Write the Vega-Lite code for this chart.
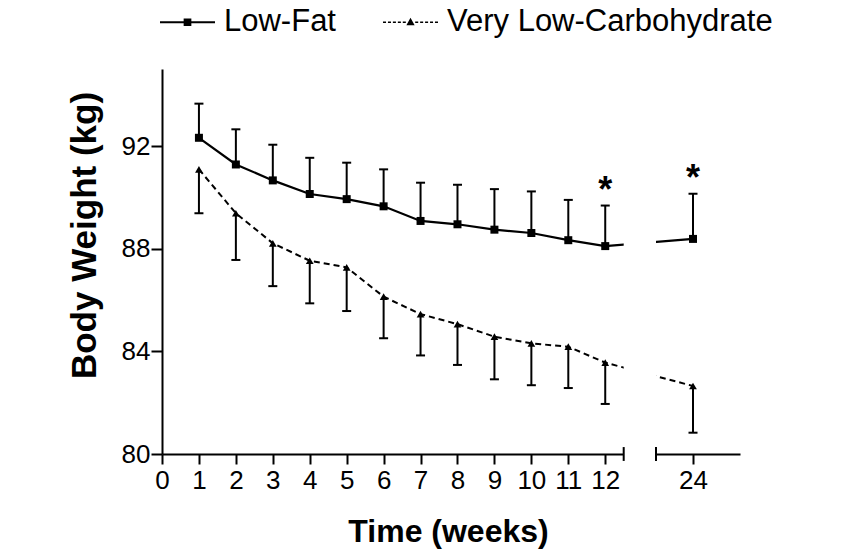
{
  "$schema": "https://vega.github.io/schema/vega-lite/v6.json",
  "autosize": "none",
  "width": 578,
  "height": 385,
  "padding": {"left": 162, "top": 69, "right": 110, "bottom": 106},
  "background": "white",
  "config": {"view": {"stroke": null}, "font": "Liberation Sans"},
  "datasets": {
    "weights": [
      {"week": 1, "group": "Low-Fat", "mean": 92.32, "bound": 93.65, "sig": ""},
      {"week": 2, "group": "Low-Fat", "mean": 91.28, "bound": 92.65, "sig": ""},
      {"week": 3, "group": "Low-Fat", "mean": 90.66, "bound": 92.05, "sig": ""},
      {"week": 4, "group": "Low-Fat", "mean": 90.13, "bound": 91.54, "sig": ""},
      {"week": 5, "group": "Low-Fat", "mean": 89.93, "bound": 91.35, "sig": ""},
      {"week": 6, "group": "Low-Fat", "mean": 89.65, "bound": 91.09, "sig": ""},
      {"week": 7, "group": "Low-Fat", "mean": 89.08, "bound": 90.57, "sig": ""},
      {"week": 8, "group": "Low-Fat", "mean": 88.95, "bound": 90.49, "sig": ""},
      {"week": 9, "group": "Low-Fat", "mean": 88.74, "bound": 90.32, "sig": ""},
      {"week": 10, "group": "Low-Fat", "mean": 88.61, "bound": 90.23, "sig": ""},
      {"week": 11, "group": "Low-Fat", "mean": 88.33, "bound": 89.90, "sig": ""},
      {"week": 12, "group": "Low-Fat", "mean": 88.10, "bound": 89.68, "sig": "*"},
      {"week": 24, "group": "Low-Fat", "mean": 88.38, "bound": 90.14, "sig": "*"},
      {"week": 1, "group": "Very Low-Carbohydrate", "mean": 91.09, "bound": 89.38, "sig": ""},
      {"week": 2, "group": "Very Low-Carbohydrate", "mean": 89.38, "bound": 87.56, "sig": ""},
      {"week": 3, "group": "Very Low-Carbohydrate", "mean": 88.21, "bound": 86.54, "sig": ""},
      {"week": 4, "group": "Very Low-Carbohydrate", "mean": 87.53, "bound": 85.87, "sig": ""},
      {"week": 5, "group": "Very Low-Carbohydrate", "mean": 87.27, "bound": 85.57, "sig": ""},
      {"week": 6, "group": "Very Low-Carbohydrate", "mean": 86.13, "bound": 84.51, "sig": ""},
      {"week": 7, "group": "Very Low-Carbohydrate", "mean": 85.45, "bound": 83.84, "sig": ""},
      {"week": 8, "group": "Very Low-Carbohydrate", "mean": 85.06, "bound": 83.47, "sig": ""},
      {"week": 9, "group": "Very Low-Carbohydrate", "mean": 84.57, "bound": 82.91, "sig": ""},
      {"week": 10, "group": "Very Low-Carbohydrate", "mean": 84.31, "bound": 82.68, "sig": ""},
      {"week": 11, "group": "Very Low-Carbohydrate", "mean": 84.18, "bound": 82.57, "sig": ""},
      {"week": 12, "group": "Very Low-Carbohydrate", "mean": 83.56, "bound": 81.95, "sig": ""},
      {"week": 24, "group": "Very Low-Carbohydrate", "mean": 82.65, "bound": 80.83, "sig": ""}
    ],
    "breaks": [{"from": 12.5, "to": 23}]
  },
  "data": {"name": "weights"},
  "layer": [
    {
      "transform": [{"filter": "datum.group == 'Low-Fat'"}],
      "mark": {"type": "line", "color": "black", "strokeWidth": 2.2},
      "encoding": {
        "x": {
          "field": "week", "type": "quantitative",
          "scale": {"domain": [0, 12.5, 23, 25.27], "range": [0, 461.7, 494, 578], "nice": false, "zero": false},
          "axis": {
            "values": [0, 1, 2, 3, 4, 5, 6, 7, 8, 9, 10, 11, 12, 24],
            "grid": false, "labelFontSize": 26, "labelColor": "black", "labelPadding": 3,
            "labelFlush": false, "labelOverlap": false,
            "tickSize": 10, "tickWidth": 2, "tickColor": "black",
            "domainWidth": 2, "domainColor": "black",
            "title": "Time (weeks)", "titleFontSize": 32, "titleFontWeight": "bold", "titleColor": "black",
            "titleX": 286, "titleY": 87, "titleBaseline": "alphabetic", "titleAlign": "center"
          }
        },
        "y": {
          "field": "mean", "type": "quantitative",
          "scale": {"domain": [80, 95], "nice": false, "zero": false},
          "axis": {
            "values": [80, 84, 88, 92],
            "grid": false, "labelFontSize": 26, "labelColor": "black", "labelPadding": 1,
            "tickSize": 11, "tickWidth": 2, "tickColor": "black",
            "domainWidth": 2, "domainColor": "black",
            "title": "Body Weight (kg)", "titleFontSize": 35, "titleFontWeight": "bold", "titleColor": "black",
            "titleX": -78, "titleY": 166, "titleAngle": 270, "titleBaseline": "middle", "titleAlign": "center"
          }
        }
      }
    },
    {
      "transform": [{"filter": "datum.group == 'Very Low-Carbohydrate'"}],
      "mark": {"type": "line", "color": "black", "strokeWidth": 2, "strokeDash": [6, 4]},
      "encoding": {
        "x": {"field": "week", "type": "quantitative"},
        "y": {"field": "mean", "type": "quantitative"}
      }
    },
    {
      "mark": {"type": "rule", "color": "black", "strokeWidth": 2},
      "encoding": {
        "x": {"field": "week", "type": "quantitative"},
        "y": {"field": "mean", "type": "quantitative"},
        "y2": {"field": "bound"}
      }
    },
    {
      "mark": {"type": "tick", "orient": "horizontal", "color": "black", "size": 9, "thickness": 2, "opacity": 1},
      "encoding": {
        "x": {"field": "week", "type": "quantitative"},
        "y": {"field": "bound", "type": "quantitative"}
      }
    },
    {
      "transform": [{"filter": "datum.group == 'Low-Fat'"}],
      "mark": {"type": "point", "shape": "square", "filled": true, "color": "black", "opacity": 1, "size": 64},
      "encoding": {
        "x": {"field": "week", "type": "quantitative"},
        "y": {"field": "mean", "type": "quantitative"}
      }
    },
    {
      "transform": [{"filter": "datum.group == 'Very Low-Carbohydrate'"}],
      "mark": {"type": "point", "shape": "triangle-up", "filled": true, "color": "black", "opacity": 1, "size": 60},
      "encoding": {
        "x": {"field": "week", "type": "quantitative"},
        "y": {"field": "mean", "type": "quantitative"}
      }
    },
    {
      "transform": [{"filter": "datum.sig != ''"}],
      "mark": {"type": "text", "fontSize": 36, "fontWeight": "bold", "color": "black", "baseline": "alphabetic", "dy": -4},
      "encoding": {
        "x": {"field": "week", "type": "quantitative"},
        "y": {"field": "bound", "type": "quantitative"},
        "text": {"field": "sig"}
      }
    },
    {
      "data": {"name": "breaks"},
      "mark": {"type": "rect", "color": "white", "opacity": 1},
      "encoding": {
        "x": {"field": "from", "type": "quantitative"},
        "x2": {"field": "to"},
        "y": {"datum": 79.5, "type": "quantitative"},
        "y2": {"datum": 95}
      }
    },
    {
      "data": {"name": "breaks"},
      "mark": {"type": "rule", "color": "black", "strokeWidth": 2},
      "encoding": {
        "x": {"field": "from", "type": "quantitative"},
        "y": {"datum": 79.73, "type": "quantitative"},
        "y2": {"datum": 80.27}
      }
    },
    {
      "data": {"name": "breaks"},
      "mark": {"type": "rule", "color": "black", "strokeWidth": 2},
      "encoding": {
        "x": {"field": "to", "type": "quantitative"},
        "y": {"datum": 79.73, "type": "quantitative"},
        "y2": {"datum": 80.27}
      }
    },
    {
      "transform": [{"filter": "false"}],
      "mark": {"type": "point", "filled": true, "color": "black", "opacity": 1},
      "encoding": {
        "shape": {
          "field": "group", "type": "nominal",
          "scale": {
            "domain": ["Low-Fat", "Very Low-Carbohydrate"],
            "range": [
              "M-1,-0.038H1V0.038H-1ZM-0.14,-0.14H0.14V0.14H-0.14Z",
              "M-1,-0.025H-0.89V0.025H-1ZM-0.82,-0.025H-0.71V0.025H-0.82ZM-0.64,-0.025H-0.53V0.025H-0.64ZM-0.46,-0.025H-0.35V0.025H-0.46ZM-0.28,-0.025H-0.17V0.025H-0.28ZM0,-0.16L0.15,0.11H-0.15ZM0.17,-0.025H0.28V0.025H0.17ZM0.35,-0.025H0.46V0.025H0.35ZM0.53,-0.025H0.64V0.025H0.53ZM0.71,-0.025H0.82V0.025H0.71ZM0.89,-0.025H1V0.025H0.89Z"
            ]
          },
          "legend": {
            "orient": "none", "legendX": -2, "legendY": -74.5, "direction": "horizontal", "title": null,
            "symbolSize": 3025, "symbolFillColor": "black", "symbolStrokeWidth": 0,
            "labelFontSize": 31, "labelFont": "Liberation Sans", "labelColor": "black", "labelOffset": 9, "labelLimit": 1000,
            "columnPadding": 47, "padding": 0
          }
        }
      }
    }
  ]
}
